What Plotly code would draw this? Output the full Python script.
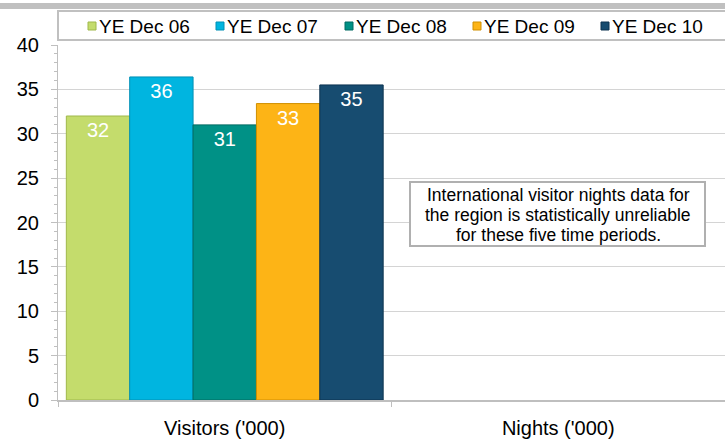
import plotly.graph_objects as go

categories = ["Visitors ('000)", "Nights ('000)"]
series_names = ["YE Dec 06", "YE Dec 07", "YE Dec 08", "YE Dec 09", "YE Dec 10"]
visitors = [32.0, 36.4, 31.0, 33.4, 35.5]
labels = ["32", "36", "31", "33", "35"]
colors = ["#c4dc6c", "#00b5e0", "#009186", "#fdb416", "#174c70"]
borders = ["#9fb84a", "#0090b5", "#006b62", "#d08f00", "#0c3350"]
note_lines = ["International visitor nights data for",
              "the region is statistically unreliable",
              "for these five time periods."]

fig = go.Figure()
for name, v, lab, c, bc in zip(series_names, visitors, labels, colors, borders):
    fig.add_trace(go.Bar(
        x=categories, y=[v, None], name=name,
        marker=dict(color=c, line=dict(color=bc, width=1)),
        text=[lab, ""], textposition="inside", insidetextanchor="end",
        textfont=dict(color="white", size=20, family="Liberation Sans"),
        textangle=0, showlegend=False,
    ))

W, H = 725, 441
L, R, T, B = 58, 0, 45, 41
pw, ph = W - L - R, H - T - B

def px_x(x):
    return (x - L) / pw

def px_y(y):
    return 1 + (T - y) / ph

shapes = [
    dict(type="rect", xref="paper", yref="paper",
         x0=px_x(0), x1=1, y0=px_y(9), y1=px_y(3),
         fillcolor="#c0c0c0", line=dict(width=0), layer="below"),
    dict(type="rect", xref="paper", yref="paper",
         x0=px_x(58), x1=px_x(740), y0=px_y(40), y1=px_y(11),
         fillcolor="white", line=dict(color="#c0c0c0", width=2), layer="below"),
    dict(type="rect", xref="paper", yref="paper",
         x0=px_x(410), x1=px_x(705), y0=px_y(246), y1=px_y(182),
         fillcolor="white", line=dict(color="#b0b0b0", width=2), layer="above"),
]
annotations = []

# legend (manual, to match the compact layout of the original)
leg_x = [88, 216, 345, 473, 601]
for name, c, bc, x in zip(series_names, colors, borders, leg_x):
    shapes.append(dict(type="rect", xref="paper", yref="paper",
                       x0=px_x(x), x1=px_x(x + 8), y0=px_y(30), y1=px_y(22),
                       fillcolor=c, line=dict(color=bc, width=1)))
    annotations.append(dict(text=name, xref="paper", yref="paper",
                            x=px_x(x + 9), y=px_y(26), xanchor="left", yanchor="middle",
                            showarrow=False,
                            font=dict(size=19, family="Liberation Sans", color="#000000")))

for i, line in enumerate(note_lines):
    annotations.append(dict(
        text=line, xref="paper", yref="paper", x=px_x(558), y=px_y(195 + 20 * i),
        xanchor="center", yanchor="middle", showarrow=False,
        font=dict(size=17.5, family="Liberation Sans", color="#000000"),
    ))

fig.update_layout(
    width=W, height=H,
    margin=dict(l=L, r=R, t=T, b=B, autoexpand=False),
    paper_bgcolor="white", plot_bgcolor="white",
    barmode="group", bargap=0.05, bargroupgap=0,
    font=dict(family="Liberation Sans", size=20, color="#000000"),
    showlegend=False,
    xaxis=dict(
        showline=True, linecolor="#bfbfbf", linewidth=2,
        ticks="outside", tickson="boundaries", ticklen=5, tickcolor="#bfbfbf",
        tickfont=dict(size=20), showgrid=False, automargin=False,
        ticklabelstandoff=9,
    ),
    yaxis=dict(
        range=[0, 40], dtick=5, showgrid=True, gridcolor="#d4d4d4", gridwidth=1,
        showline=True, linecolor="#bfbfbf", linewidth=1,
        ticks="outside", ticklen=6, tickcolor="#bfbfbf",
        minor=dict(dtick=1, ticks="outside", ticklen=3, tickcolor="#bfbfbf", showgrid=False),
        tickfont=dict(size=20), zeroline=False, automargin=False,
        ticklabelstandoff=8,
    ),
    shapes=shapes,
    annotations=annotations,
)

fig.write_html("out.html", config={"displayModeBar": False},
               post_script="document.body.style.margin='0';")
